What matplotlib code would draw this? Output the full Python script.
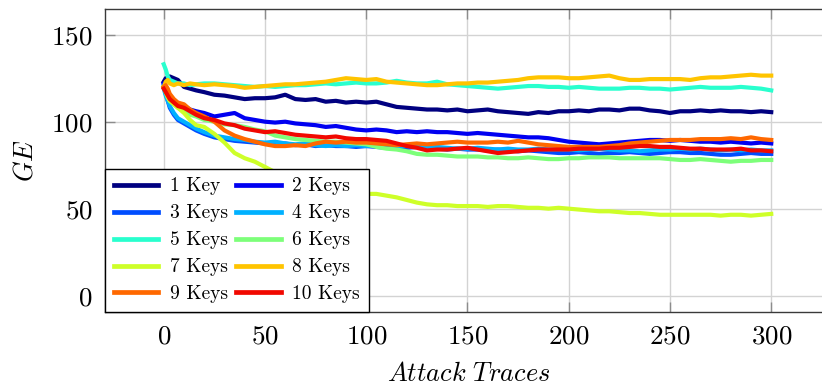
import numpy as np
import matplotlib
matplotlib.use("Agg")
import matplotlib.pyplot as plt

plt.rcParams["font.family"] = ["cmr10", "DejaVu Serif"]
plt.rcParams["mathtext.fontset"] = "cm"
plt.rcParams["axes.formatter.use_mathtext"] = True

# Number of attack traces at which the guessing entropy was recorded
traces = [0, 1, 2, 3, 5, 7, 10, 13, 16, 20, 25, 30, 35, 40, 45] + list(range(50, 301, 5))

labels = ["1 Key", "2 Keys", "3 Keys", "4 Keys", "5 Keys",
          "6 Keys", "7 Keys", "8 Keys", "9 Keys", "10 Keys"]

ge_1 = [123, 125, 124, 126, 125, 124, 120, 119, 118, 117, 115.5, 115, 114, 113, 113.5,
        113.5, 114, 115.5, 113, 112.5, 113, 111.5, 112, 111, 111.5,
        111, 111.5, 110, 108.5, 108, 107.5, 107, 107, 106.5, 107,
        106, 106.5, 107, 106, 105.5, 105, 104.5, 105.5, 105, 106,
        106, 106.5, 106, 107, 107, 106.5, 107.5, 107.5, 106.5, 106,
        105, 106, 106, 106.5, 106, 106.5, 106, 106, 105.5, 106, 105.5]

ge_2 = [122, 120, 117, 115, 112, 110, 109, 107, 106, 105, 103, 104, 105, 102, 101,
        100, 99.5, 100, 99, 98.5, 98, 97, 97.5, 96.5, 95.5,
        95, 95.5, 95, 94, 94.5, 94, 94.5, 94, 94, 93.5,
        93, 93.5, 93, 92.5, 92, 91.5, 91, 91, 90.5, 89.5,
        88.5, 88, 87.5, 87, 87.5, 88, 88.5, 89, 89.5, 89.5,
        89, 89.5, 89, 88.5, 88.5, 88, 88.5, 88, 87.5, 88, 87.5]

ge_3 = [121, 116, 112, 108, 104, 101, 99, 97, 95, 93, 91, 90, 89, 88.5, 88,
        87.5, 87, 87.5, 86.5, 87, 86, 86.5, 86, 86, 85.5,
        86, 85.5, 85, 85.5, 85, 85.5, 85, 84.5, 84, 84.5,
        84, 84, 83.5, 84, 83.5, 83, 83.5, 83, 82.5, 82,
        82, 82.5, 82, 81.5, 82, 82, 82.5, 82, 81.5, 82,
        82.5, 82.5, 82, 82, 81.5, 81, 81, 81.5, 82, 81.5, 81.5]

ge_4 = [119, 115, 112, 109, 105, 102, 100, 98, 96, 94, 92, 91, 90, 89.5, 88.5,
        88, 88.5, 87.5, 87, 87.5, 86.5, 86, 86.5, 86, 86.5,
        86, 86.5, 86, 85.5, 86, 85.5, 85, 85.5, 85, 84.5,
        84.5, 85, 84.5, 84, 84.5, 84, 84, 84.5, 84, 84,
        84, 83.5, 84, 84.5, 84, 83.5, 83.5, 83, 83.5, 84,
        84, 84.5, 84, 84.5, 84, 83.5, 84, 83.5, 84, 83.5, 83.5]

ge_5 = [133, 130, 126, 124, 123, 122, 122, 121, 121.5, 122, 122, 121.5, 121, 120.5, 120,
        120.5, 120, 120.5, 121, 121, 121.5, 122, 121.5, 122, 122.5,
        122, 122, 122.5, 123.5, 122.5, 122, 122, 123, 121.5, 121,
        120.5, 120, 119.5, 119, 119.5, 120, 120.5, 120.5, 120, 120,
        119.5, 120, 119.5, 119, 119, 119, 119.5, 119.5, 119, 119,
        118.5, 119, 119.5, 120, 119.5, 119.5, 119.5, 120, 119.5, 119, 118]

ge_6 = [120, 117, 114, 112, 110, 108, 106, 104, 103, 101, 100, 98.5, 98, 97, 95.5,
        94.5, 92, 91, 90, 89.5, 89, 88.5, 88.5, 88, 87.5,
        87, 85.5, 84.5, 84, 83, 81.5, 81, 81, 80.5, 80,
        80, 80, 79.5, 79.5, 79, 79, 79.5, 79, 78.5, 78.5,
        79, 79, 79.5, 79.5, 79.5, 79, 79, 79, 79, 79,
        78.5, 78, 78, 78.5, 78, 77.5, 77, 77.5, 77.5, 78, 78]

ge_7 = [120, 117, 114, 112, 110, 108, 105, 101, 98, 97, 93, 88, 82, 79, 77,
        74, 71, 69, 67, 65, 63.5, 62, 61, 60, 59,
        58.5, 58.5, 57.5, 56.5, 55, 53.5, 52.5, 52, 52, 51.5,
        51.5, 51.5, 51, 51.5, 51.5, 51, 50.5, 50.5, 50, 50.5,
        50, 49.5, 49, 48.5, 48.5, 48, 47.5, 47.5, 47, 46.5,
        46.5, 46.5, 46.5, 46.5, 46.5, 46, 46.5, 46.5, 46, 46.5, 47]

ge_8 = [120, 123, 124, 122, 121, 122, 121, 122, 121.5, 121, 121.5, 121, 120.5, 119.5, 120,
        120.5, 121, 121.5, 121.5, 122, 122.5, 123, 124, 125, 124.5,
        124, 124.5, 123, 122.5, 122, 121.5, 121, 121, 121.5, 122,
        122, 122.5, 122.5, 123, 123.5, 124, 125, 125.5, 125.5, 125.5,
        125, 125, 125.5, 126, 126.5, 125, 124, 124, 124.5, 124.5,
        124.5, 124.5, 124, 125, 125.5, 125.5, 126, 126.5, 127, 126.5, 126.5]

ge_9 = [120, 121, 119, 116, 113, 111, 110, 107, 105, 103, 100, 95, 92, 90, 88.5,
        87, 86, 86, 86.5, 86, 87.5, 88.5, 88, 88.5, 88,
        88, 87.5, 87, 86.5, 87, 87.5, 87, 87.5, 88, 88.5,
        88, 88, 88, 88.5, 88, 89, 88, 87, 86.5, 86,
        85.5, 85.5, 85.5, 85.5, 86, 86.5, 87.5, 88, 88.5, 89,
        89.5, 89.5, 89.5, 90, 90, 90, 90.5, 90, 91, 90, 89.5]

ge_10 = [119, 117, 115, 113, 111, 109, 108, 106, 104, 102, 101, 99, 98, 96, 95,
         94, 94.5, 93.5, 92.5, 92, 91.5, 91, 91.5, 90.5, 90,
         90, 89.5, 89, 87.5, 86, 85, 83.5, 84, 84, 84.5,
         85, 84, 83, 82, 82.5, 83, 83.5, 84, 84, 84,
         84, 84.5, 84.5, 84.5, 85, 85, 85.5, 86, 86, 85.5,
         85.5, 85, 84.5, 84.5, 84, 84, 84, 84.5, 83.5, 83.5, 83]

series = [ge_1, ge_2, ge_3, ge_4, ge_5, ge_6, ge_7, ge_8, ge_9, ge_10]
colors = plt.cm.jet(np.arange(len(series)) / len(series))

fig = plt.figure(figsize=(8.22, 3.9), dpi=100)
ax = fig.add_axes([105 / 822, 78 / 390, 727 / 822, 302.5 / 390])

handles = []
for vals, lab, col in zip(series, labels, colors):
    h, = ax.plot(traces, vals, color=col, lw=3.0, label=lab, solid_joinstyle="round")
    handles.append(h)

ax.set_xlim(-29, 330)
ax.set_ylim(-9.4, 164.5)
ax.set_xticks([0, 50, 100, 150, 200, 250, 300])
ax.set_yticks([0, 50, 100, 150])
ax.grid(True, color="#d3d3d3", lw=1.0)
ax.set_axisbelow(True)

for sp in ax.spines.values():
    sp.set_color("#3a3a3a")
    sp.set_linewidth(1.0)

ax.tick_params(axis="both", which="major", direction="in", length=7, width=1.0,
               color="#8c8c8c", labelsize=19.5, pad=9, top=True, right=True)

ax.set_xlabel(r"$Attack\ Traces$", fontsize=19, labelpad=10)
ax.set_ylabel(r"$GE$", fontsize=19, labelpad=10)

# legend entries fill row by row: 1 2 / 3 4 / 5 6 / 7 8 / 9 10
order = [0, 2, 4, 6, 8, 1, 3, 5, 7, 9]
leg = ax.legend([handles[i] for i in order], [labels[i] for i in order],
                loc="lower left", ncol=2, fontsize=14, frameon=True, fancybox=False,
                edgecolor="black", framealpha=1, borderaxespad=0, handlelength=2.3,
                handletextpad=0.6, columnspacing=0.4, labelspacing=0.46, borderpad=0.45)
leg.get_frame().set_linewidth(1.0)
for h in leg.get_lines():
    h.set_linewidth(3.4)

fig.savefig("out.png", dpi=100)
